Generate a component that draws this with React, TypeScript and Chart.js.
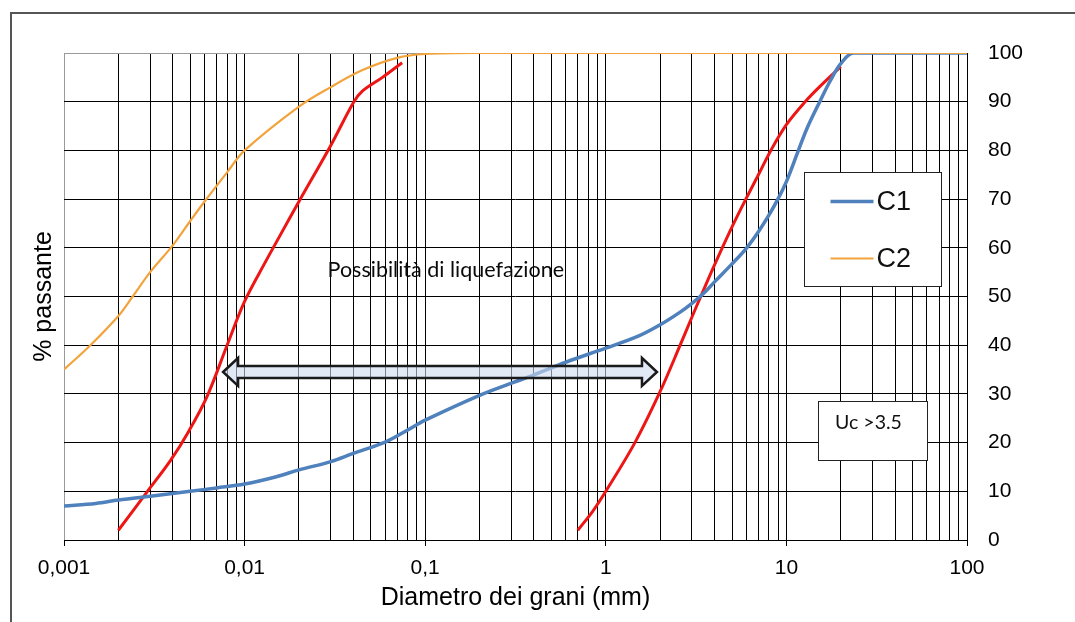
import React, { useEffect, useRef } from "react";
import { Chart, registerables } from "chart.js";

Chart.register(...registerables);

// ---------- data ----------
const c1Diameter = [0.001, 0.0015, 0.002, 0.003, 0.005, 0.007, 0.01, 0.015, 0.02, 0.03, 0.04, 0.06, 0.08, 0.1, 0.2, 0.3, 0.4, 0.6, 1, 1.5, 2, 2.58, 3, 3.45, 4, 5, 6, 7, 8, 9, 10, 11.6, 13, 15.3, 17.5, 20, 23.5, 100];
const c1Passing = [7.0, 7.5, 8.2, 9.0, 10.0, 10.7, 11.5, 13.0, 14.4, 16.1, 17.8, 20.1, 22.6, 24.6, 29.7, 32.2, 33.9, 36.5, 39.4, 41.8, 44.2, 46.8, 48.6, 50.5, 53.0, 56.7, 59.9, 63.3, 66.7, 70.1, 73.6, 79.8, 84.5, 90.0, 94.3, 97.8, 100, 100];

const c2Diameter = [0.001, 0.0014, 0.002, 0.0024, 0.003, 0.004, 0.005, 0.006, 0.008, 0.01, 0.02, 0.03, 0.045, 0.07, 0.1, 0.2, 100];
const c2Passing = [35.0, 40.0, 46.0, 50.0, 55.0, 60.5, 65.5, 69.5, 75.5, 80.0, 89.0, 93.0, 96.5, 99.0, 99.8, 100, 100];

const limitFineDiameter = [0.002, 0.0029, 0.0039, 0.0049, 0.0062, 0.008, 0.01, 0.013, 0.0157, 0.02, 0.03, 0.04, 0.045, 0.058, 0.0745];
const limitFinePassing = [2.0, 10.0, 16.4, 22.3, 29.5, 40.0, 49.0, 57.0, 62.5, 69.5, 81.0, 89.8, 92.2, 95.0, 98.0];

const limitCoarseDiameter = [0.7, 0.85, 1, 1.45, 2, 2.58, 3, 3.4, 4, 5, 6, 7, 8.2, 10, 12.7, 15.2, 20];
const limitCoarsePassing = [2.0, 6.0, 10.0, 20.0, 30.5, 40.0, 45.8, 50.5, 56.5, 64.3, 70.2, 75.0, 80.0, 85.3, 90.0, 93.0, 97.2];

const xMajorTicks = [0.001, 0.01, 0.1, 1, 10, 100];
const xTickLabels = ["0,001", "0,01", "0,1", "1", "10", "100"];
const mantissas = [1, 2, 3, 4, 5, 6, 7, 8, 9];
const yTickStep = 10;

const seriesLabels = ["C1", "C2"];
const limitLabels = ["Limite fine", "Limite grossolano"];
const xTitle = "Diametro dei grani (mm)";
const yTitle = "% passante";
const rangeText = "Possibilità di liquefazione";
const ucText = "Uc >3.5";

// annotation anchors (data space)
const arrowFrom = 0.0076;
const arrowTo = 1.92;
const arrowY = 34.5;
const rangeTextX = 0.13;
const rangeTextY = 55.4;
const ucBoxX = [14.96, 60];
const ucBoxY = [16.4, 28.5];
const ucTextX = 18.6;
const ucTextY = 24.0;
const legendBoxX = [12.5, 71.8];
const legendBoxY = [52.2, 75.6];

// ---------- helpers ----------
const pts = (xs: number[], ys: number[]) => xs.map((x, i) => ({ x, y: ys[i] }));
const xGridValues: number[] = [];
xMajorTicks.forEach((m, i) => {
  if (i < xMajorTicks.length - 1) mantissas.forEach((k) => xGridValues.push(k * m));
  else xGridValues.push(m);
});
const isMajor = (v: number) => Math.abs(Math.log10(v) - Math.round(Math.log10(v))) < 1e-6;
const majorLabel = (v: number) => {
  for (let i = 0; i < xMajorTicks.length; i++) {
    if (Math.abs(Math.log10(v) - Math.log10(xMajorTicks[i])) < 1e-6) return xTickLabels[i];
  }
  return "";
};

const AXIS_FONT = "'Liberation Sans', Arial, sans-serif";
const NOTE_FONT = "Lato, 'Open Sans', sans-serif";

const annotationPlugin = {
  id: "annotations",
  beforeDraw(chart: any) {
    const { ctx, width, height } = chart;
    ctx.save();
    ctx.fillStyle = "#ffffff";
    ctx.fillRect(0, 0, width, height);
    ctx.strokeStyle = "#555555";
    ctx.lineWidth = 2;
    ctx.beginPath();
    ctx.moveTo(11, height);
    ctx.lineTo(11, 13);
    ctx.lineTo(width, 13);
    ctx.stroke();
    ctx.restore();
  },
  afterDatasetsDraw(chart: any) {
    const { ctx } = chart;
    const xs = chart.scales.x;
    const ys = chart.scales.y;
    ctx.save();

    // double arrow
    const xl = xs.getPixelForValue(arrowFrom);
    const xr = xs.getPixelForValue(arrowTo);
    const yc = ys.getPixelForValue(arrowY);
    const bh = 6, hh = 14, hl = 15;
    ctx.beginPath();
    ctx.moveTo(xl, yc);
    ctx.lineTo(xl + hl, yc - hh);
    ctx.lineTo(xl + hl, yc - bh);
    ctx.lineTo(xr - hl, yc - bh);
    ctx.lineTo(xr - hl, yc - hh);
    ctx.lineTo(xr, yc);
    ctx.lineTo(xr - hl, yc + hh);
    ctx.lineTo(xr - hl, yc + bh);
    ctx.lineTo(xl + hl, yc + bh);
    ctx.lineTo(xl + hl, yc + hh);
    ctx.closePath();
    ctx.fillStyle = "rgba(205,218,238,0.6)";
    ctx.fill();
    ctx.strokeStyle = "#1a1a1a";
    ctx.lineWidth = 2.5;
    ctx.lineJoin = "miter";
    ctx.stroke();

    // range text
    ctx.fillStyle = "#0a0a0a";
    ctx.font = `21.5px ${NOTE_FONT}`;
    ctx.textAlign = "center";
    ctx.textBaseline = "middle";
    ctx.fillText(rangeText, xs.getPixelForValue(rangeTextX), ys.getPixelForValue(rangeTextY));

    // Uc box
    const bx0 = Math.round(xs.getPixelForValue(ucBoxX[0])) + 0.5;
    const bx1 = Math.round(xs.getPixelForValue(ucBoxX[1])) + 0.5;
    const by0 = Math.round(ys.getPixelForValue(ucBoxY[1])) + 0.5;
    const by1 = Math.round(ys.getPixelForValue(ucBoxY[0])) + 0.5;
    ctx.fillStyle = "#ffffff";
    ctx.fillRect(bx0, by0, bx1 - bx0, by1 - by0);
    ctx.strokeStyle = "#222222";
    ctx.lineWidth = 1;
    ctx.strokeRect(bx0, by0, bx1 - bx0, by1 - by0);
    ctx.fillStyle = "#111111";
    ctx.font = `19.5px ${NOTE_FONT}`;
    ctx.textAlign = "left";
    ctx.fillText(ucText, xs.getPixelForValue(ucTextX), ys.getPixelForValue(ucTextY));

    // legend
    const lx0 = Math.round(xs.getPixelForValue(legendBoxX[0])) + 0.5;
    const lx1 = Math.round(xs.getPixelForValue(legendBoxX[1])) + 0.5;
    const ly0 = Math.round(ys.getPixelForValue(legendBoxY[1])) + 0.5;
    const ly1 = Math.round(ys.getPixelForValue(legendBoxY[0])) + 0.5;
    ctx.fillStyle = "#ffffff";
    ctx.fillRect(lx0, ly0, lx1 - lx0, ly1 - ly0);
    ctx.strokeStyle = "#222222";
    ctx.lineWidth = 1;
    ctx.strokeRect(lx0, ly0, lx1 - lx0, ly1 - ly0);
    const entries = chart.data.datasets.filter((d: any) => seriesLabels.includes(d.label));
    entries.sort((a: any, b: any) => seriesLabels.indexOf(a.label) - seriesLabels.indexOf(b.label));
    entries.forEach((d: any, i: number) => {
      const ry = ly0 + 29 + i * 57;
      ctx.strokeStyle = d.borderColor;
      ctx.lineWidth = d.borderWidth;
      ctx.beginPath();
      ctx.moveTo(lx0 + 26, ry);
      ctx.lineTo(lx0 + 69, ry);
      ctx.stroke();
      ctx.fillStyle = "#111111";
      ctx.font = `27px ${AXIS_FONT}`;
      ctx.textAlign = "left";
      ctx.textBaseline = "middle";
      ctx.fillText(d.label, lx0 + 72, ry + 1);
    });
    ctx.restore();
  },
};

export default function App() {
  const canvasRef = useRef<HTMLCanvasElement | null>(null);

  useEffect(() => {
    if (!canvasRef.current) return;
    const lineBase = {
      pointRadius: 0,
      pointHoverRadius: 0,
      fill: false,
      tension: 0.35,
      xAxisID: "x",
      yAxisID: "y",
    };
    const chart = new Chart(canvasRef.current, {
      type: "line",
      data: {
        datasets: [
          { ...lineBase, label: seriesLabels[1], data: pts(c2Diameter, c2Passing), borderColor: "#F2A33C", borderWidth: 2.2, order: 0 },
          { ...lineBase, label: seriesLabels[0], data: pts(c1Diameter, c1Passing), borderColor: "#4F81BD", borderWidth: 3.5, order: 1 },
          { ...lineBase, label: limitLabels[0], data: pts(limitFineDiameter, limitFinePassing), borderColor: "#EE1515", borderWidth: 3, order: 2 },
          { ...lineBase, label: limitLabels[1], data: pts(limitCoarseDiameter, limitCoarsePassing), borderColor: "#EE1515", borderWidth: 3, order: 2 },
        ],
      },
      options: {
        responsive: false,
        animation: false,
        devicePixelRatio: 1,
        layout: { padding: { top: 53, left: 0, right: 0, bottom: 0 } },
        plugins: {
          legend: { display: false },
          tooltip: { enabled: false },
        },
        scales: {
          x: {
            type: "logarithmic",
            position: "bottom",
            min: xMajorTicks[0],
            max: xMajorTicks[xMajorTicks.length - 1],
            afterBuildTicks: (scale: any) => {
              scale.ticks = xGridValues.map((v) => ({ value: v }));
            },
            afterFit: (scale: any) => {
              scale.height = 82;
            },
            ticks: {
              autoSkip: false,
              maxRotation: 0,
              minRotation: 0,
              padding: 10,
              color: "#000",
              font: { family: AXIS_FONT, size: 21 },
              callback: (v: any) => majorLabel(Number(v)),
            },
            grid: {
              color: (c: any) => (c.tick && Math.abs(c.tick.value - xMajorTicks[0]) < 1e-9 ? "#9a9a9a" : "#000000"),
              tickColor: (c: any) => (c.tick && isMajor(c.tick.value) ? "#000000" : "rgba(0,0,0,0)"),
              lineWidth: 1,
              tickLength: 6,
            },
            border: { display: true, color: "#000000", width: 1 },
            title: {
              display: true,
              text: xTitle,
              color: "#000",
              font: { family: AXIS_FONT, size: 25 },
              padding: { top: 0, bottom: 9 },
            },
          },
          y: {
            type: "linear",
            position: "right",
            min: 0,
            max: 100,
            afterFit: (scale: any) => {
              scale.width = 108;
            },
            ticks: {
              stepSize: yTickStep,
              padding: 21,
              color: "#000",
              font: { family: AXIS_FONT, size: 21 },
            },
            grid: {
              color: (c: any) => (c.tick && c.tick.value === 100 ? "#9a9a9a" : "#000000"),
              lineWidth: 1,
              drawTicks: false,
            },
            border: { display: true, color: "#000000", width: 1 },
          },
          yLeft: {
            type: "linear",
            position: "left",
            min: 0,
            max: 100,
            afterFit: (scale: any) => {
              scale.width = 64;
            },
            ticks: { display: false },
            grid: { display: false, drawTicks: false },
            border: { display: false },
            title: {
              display: true,
              text: yTitle,
              color: "#000",
              font: { family: AXIS_FONT, size: 25 },
              padding: { top: 29, bottom: 0 },
            },
          },
        },
      },
      plugins: [annotationPlugin],
    } as any);
    return () => chart.destroy();
  }, []);

  return (
    <div style={{ position: "fixed", left: 0, top: 0, width: 1075, height: 622, overflow: "hidden", background: "#fff" }}>
      <canvas ref={canvasRef} width={1075} height={622} style={{ display: "block" }} />
    </div>
  );
}
